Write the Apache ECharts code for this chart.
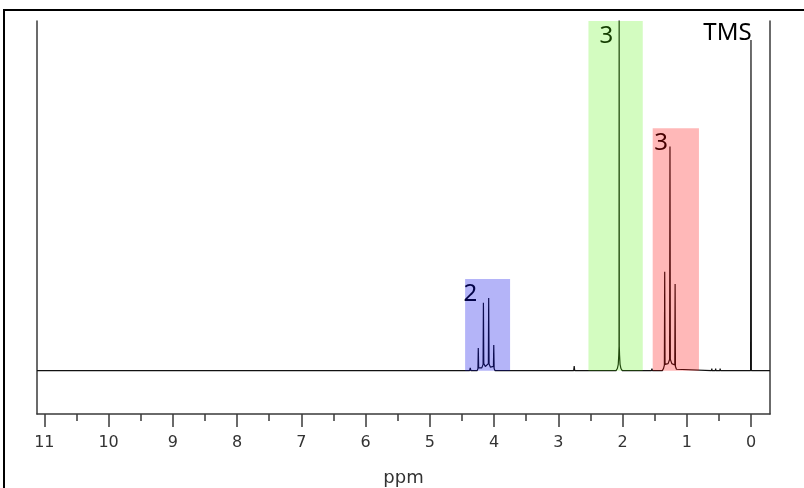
<!DOCTYPE html>
<html>
<head>
<meta charset="utf-8">
<script src="https://cdn.jsdelivr.net/npm/echarts@6/dist/echarts.min.js"></script>
<style>html,body{margin:0;padding:0;background:#fff}#c{width:804px;height:488px}</style>
</head>
<body>
<div id="c"></div>
<script>
// ---- data ----
const ppmRange = [-0.296, 11.114];          // x-axis extent (ppm)
const intensityRange = [-12.4, 100];         // y-axis extent (relative intensity)
const majorTicks = [0,1,2,3,4,5,6,7,8,9,10,11];
const minorTicks = [0.5,1.5,2.5,3.5,4.5,5.5,6.5,7.5,8.5,9.5,10.5];

// spectrum trace: [ppm, intensity]
const spectrum = [
  [11.114,0],
  [4.38,0],[4.37,0.8],[4.36,0],
  [4.262,0],[4.25,0.6],[4.245,6.5],[4.239,0.8],[4.215,1.1],[4.19,0.8],[4.17,1.8],[4.165,19.4],[4.159,2.0],[4.135,1.2],[4.11,1.2],[4.088,2.0],[4.083,20.8],[4.077,1.9],[4.055,1.0],[4.03,0.7],[4.009,1.2],[4.004,7.3],[3.998,0.6],[3.985,0],
  [2.76,0],[2.752,1.3],[2.744,0],
  [2.10,0],[2.08,0.6],[2.066,1.8],[2.058,4.5],[2.054,7.0],[2.052,110],[2.050,7.0],[2.046,4.5],[2.038,1.8],[2.024,0.6],[2.004,0],
  [1.55,0],[1.542,0.6],[1.534,0],
  [1.38,0],[1.362,0.6],[1.348,1.6],[1.343,28.3],[1.338,1.8],[1.315,1.6],[1.29,2.0],[1.267,3.2],[1.261,64.1],[1.255,3.2],[1.232,2.0],[1.205,1.6],[1.186,1.6],[1.181,24.8],[1.176,1.2],[1.16,0.4],[1.145,0],
  [0.615,0],[0.61,0.6],[0.605,0],[0.555,0],[0.55,0.6],[0.545,0],[0.485,0],[0.48,0.6],[0.475,0],
  [0.006,0],[0.0,94.6],[-0.006,0],
  [-0.296,0]
];

// integration regions: [ppmFrom, ppmTo, topIntensity]
const regions = [
  [4.45, 3.75, 26.2],
  [2.53, 1.685, 100],
  [1.53, 0.81, 69.3]
];
// labels: text and anchor [ppm, intensity]
const labelTexts = ['2', '3', '3', 'TMS'];
const labelPos = [[4.37, 21.9], [2.25, 95.6], [1.40, 65.1], [0.366, 96.4]];

// ---- styles ----
const regionColors = ['rgba(5,5,231,0.30)', 'rgba(79,243,3,0.25)', 'rgba(255,0,0,0.28)'];
const axisCol = '#3a3a3a';

const chart = echarts.init(document.getElementById('c'), null, {renderer: 'canvas'});
chart.setOption({
  animation: false,
  backgroundColor: '#fff',
  graphic: [{
    type: 'rect', silent: true, z: 100,
    shape: {x: 4, y: 10, width: 900, height: 600},
    style: {fill: 'none', stroke: '#000', lineWidth: 2}
  }],
  grid: {left: 37, right: 34, top: 21, bottom: 74, outerBoundsMode: 'none', containLabel: false},
  xAxis: [{
    type: 'value', min: ppmRange[0], max: ppmRange[1], inverse: true,
    name: 'ppm', nameLocation: 'middle', nameGap: 55,
    nameTextStyle: {fontFamily: 'DejaVu Sans', fontSize: 18, color: '#333'},
    axisLine: {show: true, onZero: false, lineStyle: {color: axisCol, width: 1.5}},
    axisTick: {show: true, inside: false, length: 13, customValues: majorTicks, lineStyle: {color: axisCol, width: 1.5}},
    axisLabel: {show: true, customValues: majorTicks, margin: 21, fontFamily: 'DejaVu Sans', fontSize: 16, color: '#333', formatter: v => String(Math.round(v))},
    splitLine: {show: false}
  }, {
    type: 'value', min: ppmRange[0], max: ppmRange[1], inverse: true, position: 'bottom',
    axisLine: {show: false, onZero: false},
    axisTick: {show: true, inside: false, length: 7, customValues: minorTicks, lineStyle: {color: axisCol, width: 1.5}},
    axisLabel: {show: false},
    splitLine: {show: false}
  }],
  yAxis: [{
    type: 'value', min: intensityRange[0], max: intensityRange[1], position: 'left',
    axisLine: {show: true, onZero: false, lineStyle: {color: axisCol, width: 1.5}},
    axisTick: {show: false}, axisLabel: {show: false}, splitLine: {show: false}
  }, {
    type: 'value', min: intensityRange[0], max: intensityRange[1], position: 'right',
    axisLine: {show: true, onZero: false, lineStyle: {color: axisCol, width: 1.5}},
    axisTick: {show: false}, axisLabel: {show: false}, splitLine: {show: false}
  }],
  series: [{
    type: 'line', name: 'spectrum', z: 2,
    data: spectrum, showSymbol: false, symbol: 'none', clip: true,
    lineStyle: {color: '#111', width: 1.2}, silent: true
  }, {
    type: 'custom', name: 'labels', z: 3, silent: true,
    data: labelPos,
    renderItem: function (params, api) {
      const p = api.coord([api.value(0), api.value(1)]);
      return {type: 'text', x: p[0], y: p[1], style: {
        text: labelTexts[params.dataIndex], fill: '#000',
        font: '24px "Noto Sans"', align: 'center', verticalAlign: 'middle'
      }};
    }
  }, {
    type: 'custom', name: 'regions', z: 5, silent: true,
    data: regions,
    renderItem: function (params, api) {
      const a = api.coord([api.value(0), api.value(2)]);
      const b = api.coord([api.value(1), 0]);
      return {type: 'rect', shape: {x: a[0], y: a[1], width: b[0] - a[0], height: b[1] - a[1]},
        style: {fill: regionColors[params.dataIndex]}};
    }
  }]
});
</script>
</body>
</html>
